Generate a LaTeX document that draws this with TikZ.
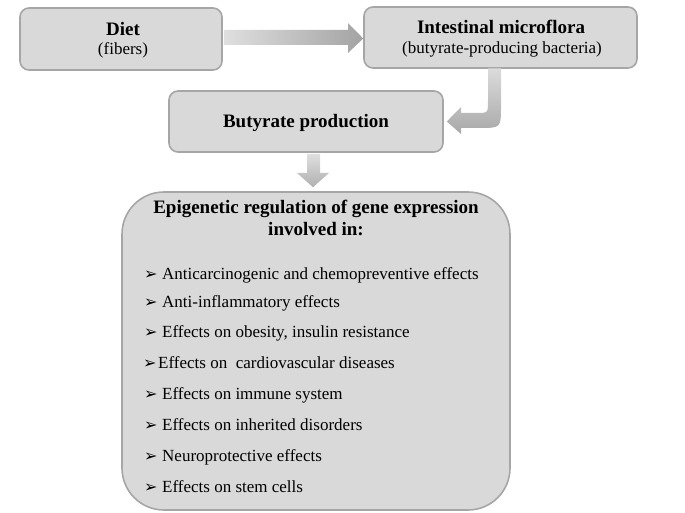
\documentclass[tikz,border=0pt]{standalone}
\usepackage{fontspec}
\setmainfont{Liberation Serif}
\newfontfamily\symfont{DejaVu Sans}
\usetikzlibrary{calc}
\definecolor{boxfill}{HTML}{D9D9D9}
\definecolor{boxline}{HTML}{A6A6A6}
\tikzset{
  box/.style={draw=boxline, fill=boxfill, line width=1.6pt, rounded corners=9pt, inner sep=0pt},
  bigbox/.style={box, rounded corners=42pt},
  btitle/.style={font=\fontsize{19}{22}\selectfont\bfseries, inner sep=0pt, anchor=base},
  rtext/.style={font=\fontsize{17}{20}\selectfont, inner sep=0pt, anchor=base},
  item/.style={font=\fontsize{17}{20}\selectfont, inner sep=0pt, anchor=base west},
  bullet/.style={font=\symfont\fontsize{16}{18}\selectfont, inner sep=0pt, anchor=base west},
  blockarrow/.style={draw=none},
}
\begin{document}
\begin{tikzpicture}[x=1pt,y=-1pt]
\useasboundingbox (0,0) rectangle (685,513);
% boxes
\node[box, minimum width=202pt, minimum height=62pt] (diet) at (121,39) {};
\node[box, minimum width=273pt, minimum height=61pt] (intest) at (500.5,37.5) {};
\node[box, minimum width=274pt, minimum height=61pt] (buty) at (306,121.5) {};
\node[bigbox, minimum width=388pt, minimum height=318pt] (epi) at (316,351) {};
% texts
\node[btitle] (tdiet) at (123,36) {Diet};
\node[rtext] (tfib) at (123,55) {(fibers)};
\node[btitle] (tint) at (501,34) {Intestinal microflora};
\node[rtext] (tbac) at (502,54) {(butyrate-producing bacteria)};
\node[btitle] (tbuty) at (306,128) {Butyrate production};
\node[btitle] (tepi1) at (316,213) {Epigenetic regulation of gene expression};
\node[btitle] (tepi2) at (316,236) {involved in:};
% items
\foreach \y/\dx/\bx/\t [count=\i] in {
  279/0/0/{Anticarcinogenic and chemopreventive effects},
  307/0/0/{Anti-inflammatory effects},
  337/0/0/{Effects on obesity, insulin resistance},
  368/-4/-1/{Effects on \ cardiovascular diseases},
  399/0/0/{Effects on immune system},
  430/0/0/{Effects on inherited disorders},
  461/0/0/{Neuroprotective effects},
  492/0/0/{Effects on stem cells}} {
  \node[bullet] (b\i) at (144+\bx,\y) {➢};
  \node[item] (it\i) at (162+\dx,\y) {\t};
}
% horizontal arrow diet -> intest
\path[blockarrow, left color=gray!25, right color=gray!72]
  ($(diet.east)+(1,-9)$) -- (348,30) -- (348,23) -- ($(intest.west)+(0,1)$)
  -- (348,53) -- (348,45) -- ($(diet.east)+(1,6)$) -- cycle;
% curved arrow intest -> buty
\path[blockarrow, top color=gray!28, bottom color=gray!68]
  (488,68.5) -- (501,68.5) -- (501,106)
  .. controls (501,128) .. (479,128) -- (461,128) -- (461,134)
  -- ($(buty.east)+(3,0)$) -- (461,107) -- (461,113) -- (476,113)
  .. controls (488,113) .. (488,101) -- cycle;
% down arrow buty -> epi
\path[blockarrow, top color=gray!25, bottom color=gray!62]
  ($(buty.south)+(1,1)$) -- ($(buty.south)+(14,1)$) -- (320,173) -- (329,173)
  -- ($(epi.north)+(-3,-4)$) -- (297,173) -- (307,173) -- cycle;
\end{tikzpicture}
\end{document}
